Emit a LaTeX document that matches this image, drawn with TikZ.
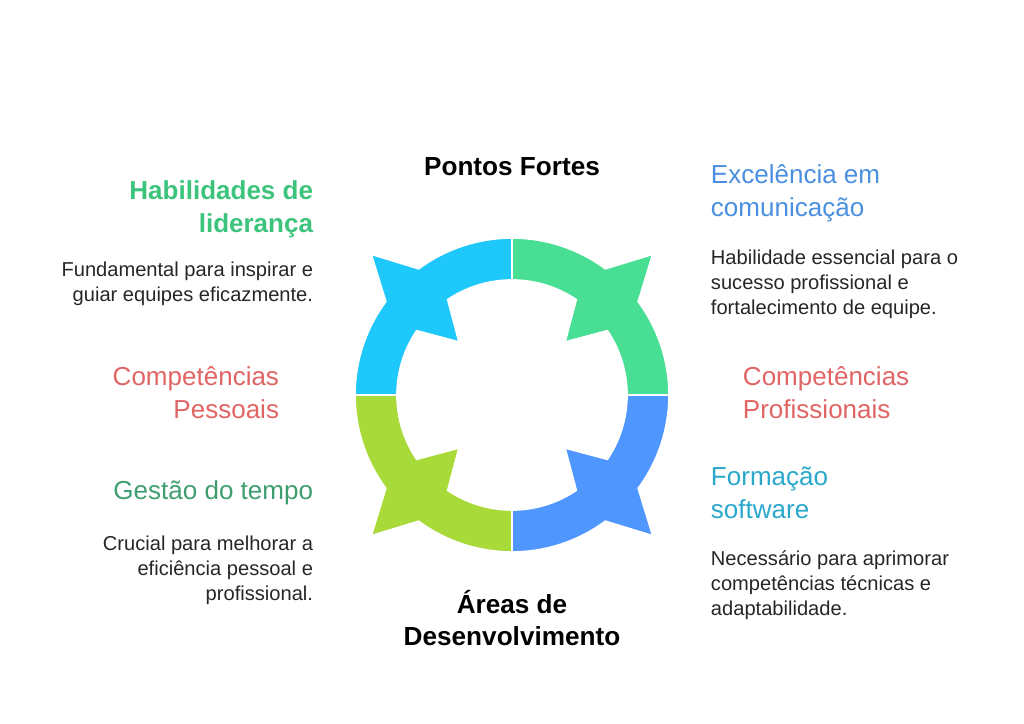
\documentclass[tikz,border=0pt]{standalone}
\usepackage{fontspec}
\setmainfont{Liberation Sans}
\usetikzlibrary{positioning}
\definecolor{cyanq}{HTML}{1EC8FA}
\definecolor{greenq}{HTML}{48DE94}
\definecolor{limeq}{HTML}{A8DA3A}
\definecolor{blueq}{HTML}{5096FF}
\definecolor{headgreen}{HTML}{3CC47C}
\definecolor{headblue}{HTML}{4A8FE0}
\definecolor{headred}{HTML}{E06464}
\definecolor{headteal}{HTML}{3E9E70}
\definecolor{headcyan}{HTML}{2AA8CC}
\tikzset{
  head/.style={font=\fontsize{18.5}{23.4}\selectfont, align=#1},
  body/.style={font=\fontsize{14.3}{17.7}\selectfont, align=#1, text=black!85},
  title/.style={font=\fontsize{18.6}{23}\selectfont\bfseries, align=center}
}
% one ring quarter, starting at angle #1, with a double tip at its middle
\newcommand{\quarter}[2]{%
  \fill[#2, draw=white, line width=1.2pt]
    (#1:157) arc[start angle=#1, end angle=#1+36.5, radius=157]
    -- (#1+45:199) -- (#1+53.5:157)
    arc[start angle=#1+53.5, end angle=#1+90, radius=157]
    -- (#1+90:115) arc[start angle=#1+90, end angle=#1+56, radius=115]
    -- (#1+45:75) -- (#1+34:115)
    arc[start angle=#1+34, end angle=#1, radius=115] -- cycle;}
\begin{document}
\begin{tikzpicture}[x=0.025cm,y=0.025cm]
\useasboundingbox (0,0) rectangle (1024,723);
\begin{scope}[shift={(512,328)}]
\quarter{0}{greenq}
\quarter{90}{cyanq}
\quarter{180}{limeq}
\quarter{270}{blueq}
\end{scope}
\node[title] (pontos) at (512,556) {Pontos Fortes};
\node[title] (areas) at (512,105) {Áreas de\\Desenvolvimento};
% left side
\node[head=right, anchor=east, text=headgreen, font=\fontsize{18.5}{23.4}\selectfont\bfseries] (lideranca) at (318,514) {Habilidades de\\liderança};
\node[body=right, anchor=east] (lidtxt) at (318,439) {Fundamental para inspirar e\\guiar equipes eficazmente.};
\node[head=right, anchor=east, text=headred] (pessoais) at (284,330) {Competências\\Pessoais};
\node[head=right, anchor=east, text=headteal] (tempo) at (318,230) {Gestão do tempo};
\node[body=right, anchor=east] (tempotxt) at (318,153) {Crucial para melhorar a\\eficiência pessoal e\\profissional.};
% right side
\node[head=left, anchor=west, text=headblue] (comunic) at (706,530) {Excelência em\\comunicação};
\node[body=left, anchor=west] (comtxt) at (706,439) {Habilidade essencial para o\\sucesso profissional e\\fortalecimento de equipe.};
\node[head=left, anchor=west, text=headred] (profiss) at (738,330) {Competências\\Profissionais};
\node[head=left, anchor=west, text=headcyan] (software) at (706,230) {Formação\\software};
\node[body=left, anchor=west] (softtxt) at (706,138) {Necessário para aprimorar\\competências técnicas e\\adaptabilidade.};
\end{tikzpicture}
\end{document}
